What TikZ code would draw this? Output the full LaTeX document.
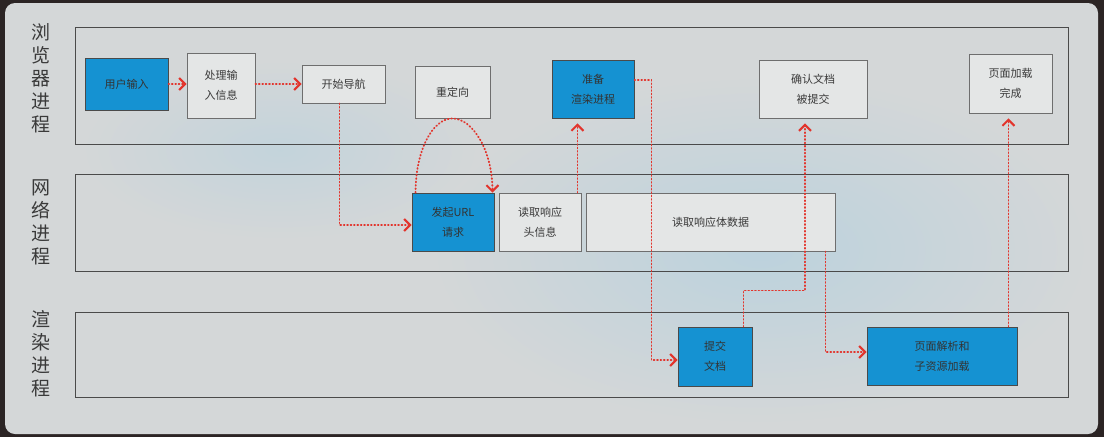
\documentclass[tikz,border=0pt]{standalone}
\usepackage{fontspec}
\setmainfont{Noto Sans CJK SC}
\usetikzlibrary{arrows.meta, calc}
\definecolor{frame}  {HTML}{2B2424}
\definecolor{panel}  {HTML}{D4D7D8}
\definecolor{glow}   {HTML}{BCD2DD}
\definecolor{lane}   {HTML}{4A4A4A}
\definecolor{stepblue}{HTML}{1592D2}
\definecolor{stepgray}{HTML}{E4E6E6}
\definecolor{flowred}{HTML}{E2342C}
\definecolor{ink}    {HTML}{3A3A3A}

\begin{document}
\begin{tikzpicture}[x=1pt, y=-1pt,
    lanebox/.style={draw=lane, line width=1pt},
    lanelbl/.style={text=ink, font=\fontsize{19}{23}\selectfont, align=center, inner sep=0pt},
    stepbox/.style={draw=lane!80, line width=0.9pt, fill=stepgray, inner sep=0pt,
                    text=ink, font=\fontsize{11}{20}\selectfont, align=center},
    bluebox/.style={stepbox, fill=stepblue, draw=lane, text=black!80},
    flow/.style={flowred, line width=1.8pt, line cap=round, dash pattern=on 0.8pt off 2.6pt,
                 -{Straight Barb[length=6pt, width=12pt, line width=2pt]}}
  ]
    % frame and panel, with the soft blue glow behind the lanes
    \fill[frame] (0,0) rectangle (1104,437);
    \fill[panel, rounded corners=10pt] (5,3) rectangle (1098,434);
    \shade[inner color=glow, outer color=panel] (760,250) ellipse [x radius=330, y radius=175];
    \shade[inner color=glow!70!panel, outer color=panel] (280,150) ellipse [x radius=200, y radius=90];

    % the three process lanes
    \draw[lanebox] (75,27)  rectangle (1068,144);
    \draw[lanebox] (75,174) rectangle (1068,271);
    \draw[lanebox] (75,312) rectangle (1068,397);
    \node[lanelbl] (lbrowser) at (41,78)  {浏\\览\\器\\进\\程};
    \node[lanelbl] (lnet)     at (41,222) {网\\络\\进\\程};
    \node[lanelbl] (lrender)  at (41,354) {渲\\染\\进\\程};

    % browser process
    \node[bluebox, minimum width=83,  minimum height=52] (input)    at (126.5,84)  {用户输入};
    \node[stepbox, minimum width=68,  minimum height=65] (parse)    at (221,85.5)  {处理输\\入信息};
    \node[stepbox, minimum width=83,  minimum height=38] (nav)      at (343.5,84)  {开始导航};
    \node[stepbox, minimum width=75,  minimum height=52] (redirect) at (452.5,92)  {重定向};
    \node[bluebox, minimum width=82,  minimum height=58] (prep)     at (593,89)    {准备\\渲染进程};
    \node[stepbox, minimum width=108, minimum height=58] (confirm)  at (813,89)    {确认文档\\被提交};
    \node[stepbox, minimum width=83,  minimum height=59] (done)     at (1010.5,83.5) {页面加载\\完成};

    % network process
    \node[bluebox, minimum width=82,  minimum height=58] (url)  at (453,222)   {发起URL\\请求};
    \node[stepbox, minimum width=82,  minimum height=58] (head) at (540,222)   {读取响应\\头信息};
    \node[stepbox, minimum width=249, minimum height=58] (body) at (710.5,222) {读取响应体数据};

    % renderer process
    \node[bluebox, minimum width=74,  minimum height=59] (commit) at (715,356.5) {提交\\文档};
    \node[bluebox, minimum width=150, minimum height=58] (render) at (942,356)   {页面解析和\\子资源加载};

    \draw[flow] (input.east) -- (input.east -| parse.west);
    \draw[flow] (parse.east |- nav.west) -- (nav.west);
    \draw[flow] ([xshift=-4pt]nav.south) |- ([yshift=-3pt]url.west);
    % redirect loops back into the same request
    \draw[flow] ([xshift=4pt]url.north west) .. controls +(0,-42) and +(-20,0) .. (redirect.south)
                .. controls +(20,0) and +(0,-42) .. ([xshift=-2pt]url.north east);
    \draw[flow, shorten >=5pt] ([xshift=-4pt]head.north east) -- ([xshift=-4pt]head.north east |- prep.south);
    \draw[flow] ([yshift=9pt]prep.east) -- ++(17,0) |- ([yshift=-3.5pt]commit.west);
    \draw[flow, shorten >=5pt] ([xshift=-9pt]commit.north east) -- ++(0,-36) -| ([xshift=-8pt]confirm.south);
    \draw[flow] ([xshift=-10pt]body.south east) |- ([yshift=4pt]render.west);
    \draw[flow, shorten >=5pt] ([xshift=-9pt]render.north east) -- ([xshift=-9pt]render.north east |- done.south);

    \useasboundingbox (0,0) rectangle (1104,437);
\end{tikzpicture}
\end{document}
